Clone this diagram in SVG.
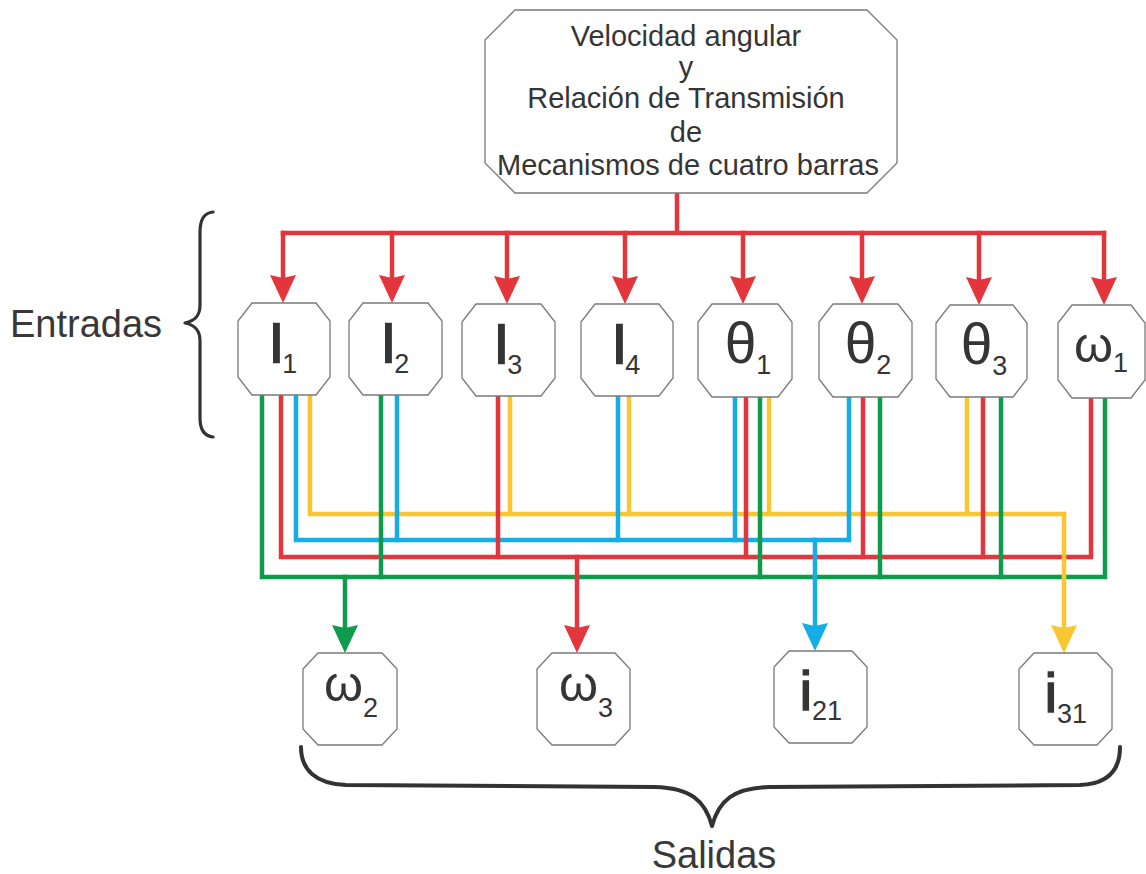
<svg xmlns="http://www.w3.org/2000/svg" width="1146" height="874" viewBox="0 0 1146 874">
  <style>
    .box { fill: #ffffff; stroke: #7a7a7a; stroke-width: 1.3; }
    .txt { font-family: "Liberation Sans", Arial, Helvetica, sans-serif; fill: #353535; }
    .head { font-size: 29px; }
    .big { font-size: 51px; }
    .theta { font-size: 57px; }
    .omega { font-size: 50px; }
    .ibig { font-size: 55px; }
    .thick { stroke: #353535; stroke-width: 2.4px; }
    .thin { stroke: #353535; stroke-width: 1.6px; }
    .sub { font-size: 27px; }
    .label { font-size: 38px; fill: #383838; }
    .wire { fill: none; stroke-width: 4.5; stroke-linecap: square; stroke-linejoin: miter; }
    .red { stroke: #e2363c; }
    .green { stroke: #0e9b4b; }
    .blue { stroke: #14ade6; }
    .yellow { stroke: #f8c630; }
    .brace { fill: none; stroke: #333333; stroke-linecap: round; stroke-linejoin: round; }
  </style>
  <defs>
    <marker id="ah-red" markerUnits="userSpaceOnUse" markerWidth="28" markerHeight="26" refX="18" refY="13" orient="auto">
      <path d="M0,0 L28,13 L0,26 L3,13 z" fill="#e2363c"/>
    </marker>
    <marker id="ah-green" markerUnits="userSpaceOnUse" markerWidth="28" markerHeight="26" refX="18" refY="13" orient="auto">
      <path d="M0,0 L28,13 L0,26 L3,13 z" fill="#0e9b4b"/>
    </marker>
    <marker id="ah-blue" markerUnits="userSpaceOnUse" markerWidth="28" markerHeight="26" refX="18" refY="13" orient="auto">
      <path d="M0,0 L28,13 L0,26 L3,13 z" fill="#14ade6"/>
    </marker>
    <marker id="ah-yellow" markerUnits="userSpaceOnUse" markerWidth="28" markerHeight="26" refX="18" refY="13" orient="auto">
      <path d="M0,0 L28,13 L0,26 L3,13 z" fill="#f8c630"/>
    </marker>
  </defs>

  <rect width="1146" height="874" fill="#ffffff"/>

  <!-- connectors -->
  <g id="connectors">
    <!-- distribution from the top box to every input -->
    <g id="distribucion">
      <path class="wire red" d="M677,193 V233 M283,233 H1104"/>
      <path class="wire red" d="M283,233 V293" marker-end="url(#ah-red)"/>
      <path class="wire red" d="M392,233 V293" marker-end="url(#ah-red)"/>
      <path class="wire red" d="M507,233 V294" marker-end="url(#ah-red)"/>
      <path class="wire red" d="M625,233 V294" marker-end="url(#ah-red)"/>
      <path class="wire red" d="M743,233 V294" marker-end="url(#ah-red)"/>
      <path class="wire red" d="M862,233 V294" marker-end="url(#ah-red)"/>
      <path class="wire red" d="M979,233 V295" marker-end="url(#ah-red)"/>
      <path class="wire red" d="M1104,233 V295" marker-end="url(#ah-red)"/>
    </g>
    <!-- bus for i31 -->
    <g id="bus-i31">
      <path class="wire yellow" d="M310,396 V514 H1064"/>
      <path class="wire yellow" d="M510,396 V514"/>
      <path class="wire yellow" d="M629,396 V514"/>
      <path class="wire yellow" d="M769,397 V514"/>
      <path class="wire yellow" d="M967,397 V514"/>
    </g>
    <!-- bus for i21 -->
    <g id="bus-i21">
      <path class="wire blue" d="M296,396 V540 H849 V397"/>
      <path class="wire blue" d="M397,395 V540"/>
      <path class="wire blue" d="M618,396 V540"/>
      <path class="wire blue" d="M735,397 V540"/>
    </g>
    <!-- bus for omega3 -->
    <g id="bus-omega3">
      <path class="wire red" d="M281,396 V557 H1091 V398"/>
      <path class="wire red" d="M498,396 V557"/>
      <path class="wire red" d="M746,397 V557"/>
      <path class="wire red" d="M863,397 V557"/>
      <path class="wire red" d="M983,397 V557"/>
    </g>
    <!-- bus for omega2 -->
    <g id="bus-omega2">
      <path class="wire green" d="M262,396 V577 H1105 V398"/>
      <path class="wire green" d="M381,395 V577"/>
      <path class="wire green" d="M760,397 V577"/>
      <path class="wire green" d="M880,397 V577"/>
      <path class="wire green" d="M1001,397 V577"/>
    </g>
    <!-- drops to the outputs -->
    <g id="salidas-drops">
      <path class="wire green" d="M345,577 V643" marker-end="url(#ah-green)"/>
      <path class="wire red" d="M577,557 V643" marker-end="url(#ah-red)"/>
      <path class="wire blue" d="M815,540 V641" marker-end="url(#ah-blue)"/>
      <path class="wire yellow" d="M1064,514 V643" marker-end="url(#ah-yellow)"/>
    </g>
  </g>

  <!-- top box -->
  <g id="fuente">
    <polygon class="box" points="515,10 867,10 897,40 897,163 867,193 515,193 485,163 485,40"/>
    <text class="txt head" text-anchor="middle">
      <tspan x="690" y="46">Velocidad angular</tspan>
      <tspan x="690" y="77">y</tspan>
      <tspan x="690" y="108">Relación de Transmisión</tspan>
      <tspan x="690" y="142">de</tspan>
      <tspan x="688" y="175">Mecanismos de cuatro barras</tspan>
    </text>
  </g>

  <!-- inputs -->
  <g id="l1">
    <polygon class="box" points="252,303 316,303 330,321 330,377 316,395 252,395 238,377 238,321"/>
    <text class="txt" x="284" y="362" text-anchor="middle"><tspan class="big thick">l</tspan><tspan class="sub" dy="11">1</tspan></text>
  </g>
  <g id="l2">
    <polygon class="box" points="363,303 428,303 442,321 442,377 428,395 363,395 349,377 349,321"/>
    <text class="txt" x="396" y="362" text-anchor="middle"><tspan class="big thick">l</tspan><tspan class="sub" dy="11">2</tspan></text>
  </g>
  <g id="l3">
    <polygon class="box" points="476,304 541,304 555,322 555,378 541,396 476,396 462,378 462,322"/>
    <text class="txt" x="509" y="363" text-anchor="middle"><tspan class="big thick">l</tspan><tspan class="sub" dy="11">3</tspan></text>
  </g>
  <g id="l4">
    <polygon class="box" points="595,304 659,304 673,322 673,378 659,396 595,396 581,378 581,322"/>
    <text class="txt" x="627" y="363" text-anchor="middle"><tspan class="big thick">l</tspan><tspan class="sub" dy="11">4</tspan></text>
  </g>
  <g id="theta1">
    <polygon class="box" points="712,304 778,304 792,322 792,379 778,397 712,397 698,379 698,322"/>
    <text class="txt" x="748" y="363" text-anchor="middle"><tspan class="theta">θ</tspan><tspan class="sub" dy="11">1</tspan></text>
  </g>
  <g id="theta2">
    <polygon class="box" points="833,304 898,304 912,322 912,379 898,397 833,397 819,379 819,322"/>
    <text class="txt" x="868" y="363" text-anchor="middle"><tspan class="theta">θ</tspan><tspan class="sub" dy="11">2</tspan></text>
  </g>
  <g id="theta3">
    <polygon class="box" points="950,305 1013,305 1027,323 1027,379 1013,397 950,397 936,379 936,323"/>
    <text class="txt" x="984" y="364" text-anchor="middle"><tspan class="theta">θ</tspan><tspan class="sub" dy="11">3</tspan></text>
  </g>
  <g id="omega1">
    <polygon class="box" points="1072,305 1131,305 1145,323 1145,380 1131,398 1072,398 1058,380 1058,323"/>
    <text class="txt" x="1101" y="362" text-anchor="middle"><tspan class="omega">ω</tspan><tspan class="sub" dy="10">1</tspan></text>
  </g>

  <!-- outputs -->
  <g id="omega2">
    <polygon class="box" points="318,653 382,653 397,669 397,729 382,745 318,745 303,729 303,669"/>
    <text class="txt" x="351" y="701" text-anchor="middle"><tspan class="omega">ω</tspan><tspan class="sub" dy="16">2</tspan></text>
  </g>
  <g id="omega3">
    <polygon class="box" points="552,653 615,653 630,669 630,729 615,745 552,745 537,729 537,669"/>
    <text class="txt" x="586" y="701" text-anchor="middle"><tspan class="omega">ω</tspan><tspan class="sub" dy="16">3</tspan></text>
  </g>
  <g id="i21">
    <polygon class="box" points="789,651 852,651 867,667 867,727 852,743 789,743 774,727 774,667"/>
    <text class="txt" x="821" y="710" text-anchor="middle"><tspan class="ibig thin">i</tspan><tspan class="sub" dy="10">21</tspan></text>
  </g>
  <g id="i31">
    <polygon class="box" points="1034,653 1097,653 1112,669 1112,729 1097,745 1034,745 1019,729 1019,669"/>
    <text class="txt" x="1066" y="712" text-anchor="middle"><tspan class="ibig thin">i</tspan><tspan class="sub" dy="11">31</tspan></text>
  </g>

  <!-- group labels -->
  <g id="entradas">
    <path class="brace" stroke-width="3.2" d="M213,212 C204,213 200,219 200,232 L200,305 C200,316 195,321 185,323 C195,325 200,330 200,341 L200,418 C200,430 204,436 213,437"/>
    <text class="txt label" x="10" y="337">Entradas</text>
  </g>
  <g id="salidas">
    <path class="brace" stroke-width="4" d="M301,747 C301,770 316,784 346,785 L655,787 C690,788 705,800 712,826 C719,800 734,788 769,787 L1080,785 C1108,784 1120,770 1120,747"/>
    <text class="txt label" x="714" y="868" text-anchor="middle">Salidas</text>
  </g>
</svg>
